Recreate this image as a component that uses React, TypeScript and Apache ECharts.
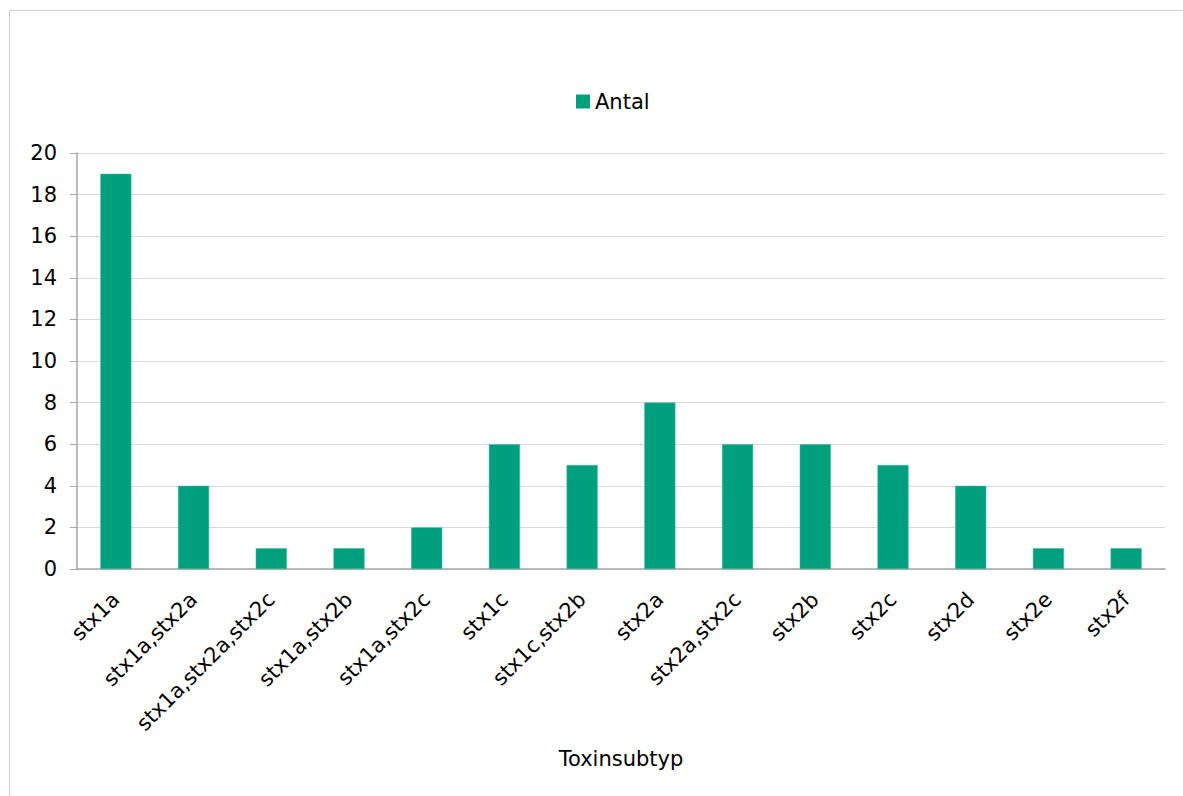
import React, { useEffect, useRef } from "react";
import * as echarts from "echarts";

const categories = [
  "stx1a",
  "stx1a,stx2a",
  "stx1a,stx2a,stx2c",
  "stx1a,stx2b",
  "stx1a,stx2c",
  "stx1c",
  "stx1c,stx2b",
  "stx2a",
  "stx2a,stx2c",
  "stx2b",
  "stx2c",
  "stx2d",
  "stx2e",
  "stx2f",
];
const antal = [19, 4, 1, 1, 2, 6, 5, 8, 6, 6, 5, 4, 1, 1];
const seriesName = "Antal";
const xAxisName = "Toxinsubtyp";

const FONT = "DejaVu Sans";

export default function App() {
  const ref = useRef<HTMLDivElement>(null);
  useEffect(() => {
    const chart = echarts.init(ref.current!, null, { renderer: "svg" });
    chart.setOption({
      animation: false,
      backgroundColor: "#ffffff",
      textStyle: { fontFamily: FONT },
      graphic: [
        {
          type: "rect",
          shape: { x: 9.5, y: 10.5, width: 1300, height: 900 },
          style: { fill: "none", stroke: "#d0d0d0", lineWidth: 1 },
          silent: true,
        },
      ],
      legend: {
        data: [seriesName],
        top: 86,
        left: 571,
        itemWidth: 14,
        itemHeight: 14,
        itemGap: 6,
        icon: "rect",
        itemStyle: { borderWidth: 0 },
        textStyle: { fontSize: 21, color: "#000", fontFamily: FONT },
      },
      grid: { left: 77, right: 18, top: 153, bottom: 227, containLabel: false },
      xAxis: {
        type: "category",
        data: categories,
        name: xAxisName,
        nameLocation: "middle",
        nameGap: 179,
        nameTextStyle: { fontSize: 21, color: "#000", fontFamily: FONT },
        axisLine: { lineStyle: { color: "#a6a6a6", width: 1.5 } },
        axisTick: { show: false },
        axisLabel: {
          rotate: 45,
          interval: 0,
          fontSize: 21,
          color: "#000",
          margin: 27,
          fontFamily: FONT,
        },
      },
      yAxis: {
        type: "value",
        min: 0,
        max: 20,
        interval: 2,
        axisLine: { show: true, lineStyle: { color: "#a6a6a6", width: 1.5 } },
        axisTick: { show: true, length: 7, lineStyle: { color: "#a6a6a6" } },
        axisLabel: { fontSize: 21, color: "#000", margin: 20, fontFamily: FONT },
        splitLine: { lineStyle: { color: "#d9d9d9", width: 1 } },
      },
      series: [
        {
          name: seriesName,
          type: "bar",
          data: antal,
          barWidth: "40%",
          itemStyle: { color: "#00A07F", borderColor: "#3fb89c", borderWidth: 0.5 },
        },
      ],
    });
    return () => chart.dispose();
  }, []);
  return (
    <div
      ref={ref}
      style={{ position: "absolute", left: 0, top: 0, width: 1183, height: 796 }}
    />
  );
}
